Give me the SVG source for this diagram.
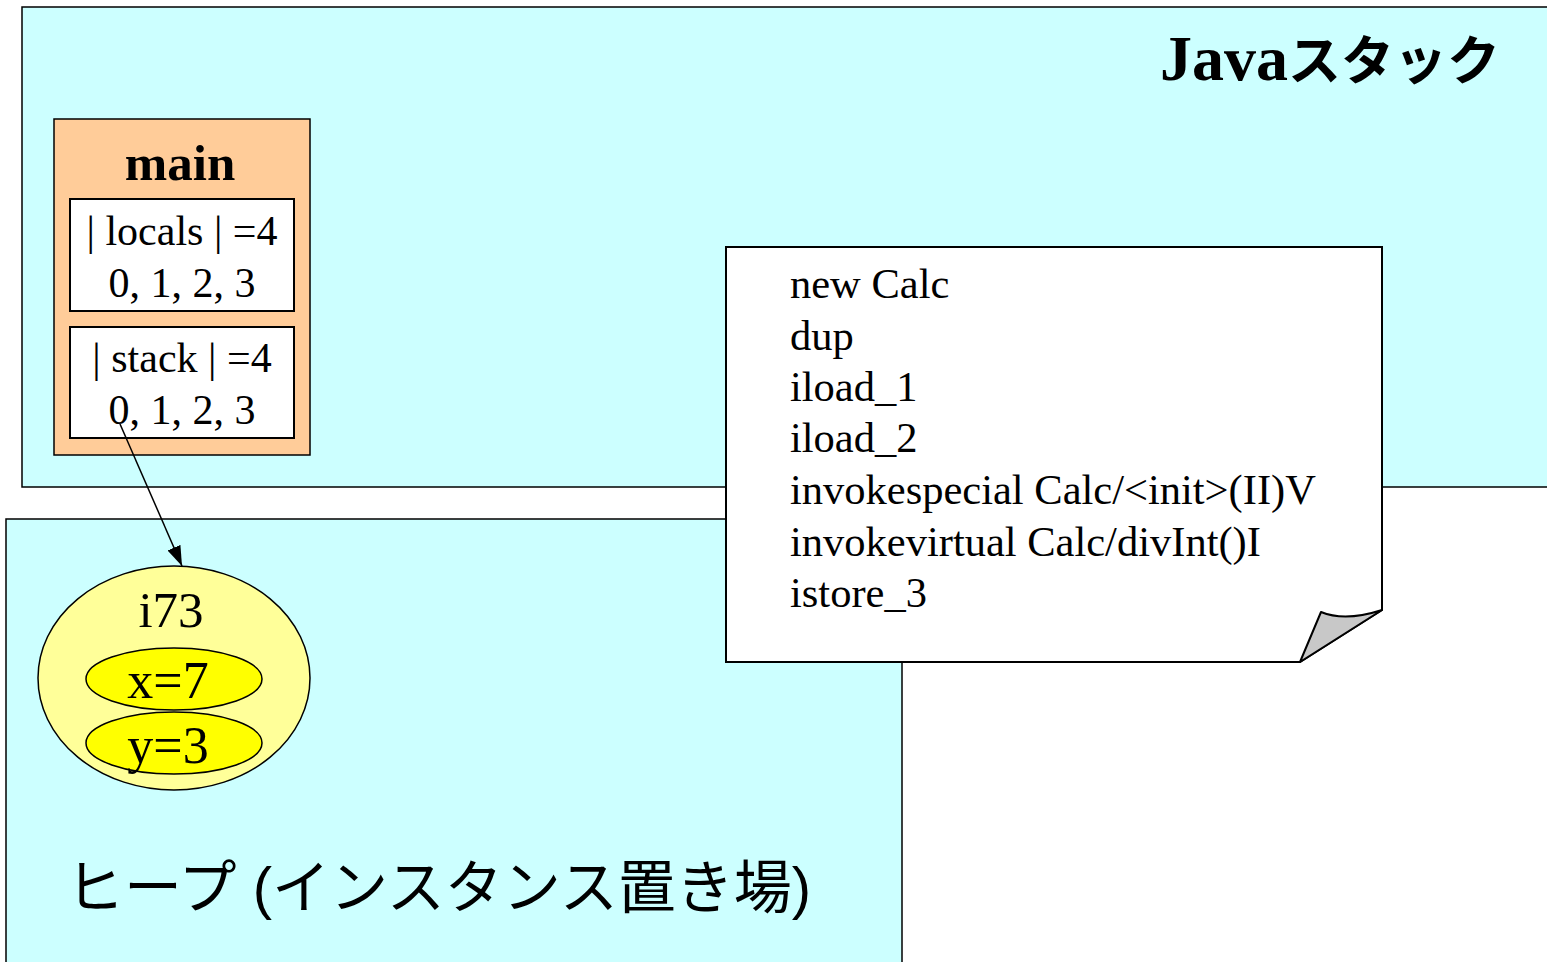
<svg xmlns="http://www.w3.org/2000/svg" width="1547" height="962" viewBox="0 0 1547 962">
<defs>
<style>
.area{fill:#CCFFFF;stroke:#000;stroke-width:1.5}
.t{font-family:"Liberation Serif","Times New Roman",serif;fill:#000}
.j{font-family:"Liberation Sans","Noto Sans CJK JP",sans-serif;fill:#000}
.box{fill:#fff;stroke:#000;stroke-width:2}
</style>
<marker id="arr" viewBox="0 0 20 14" refX="20" refY="7" markerWidth="20" markerHeight="14" markerUnits="userSpaceOnUse" orient="auto"><path d="M0,0 L20,7 L0,14 Z" fill="#000"/></marker>
</defs>
<rect width="1547" height="962" fill="#fff"/>
<g id="java-stack">
<rect class="area" x="22" y="7" width="1540" height="480"/>
<text class="t" x="1160" y="80" font-size="64" font-weight="bold">Java<tspan class="j" font-size="53" font-weight="bold">スタック</tspan></text>
</g>
<g id="heap">
<rect class="area" x="6" y="519" width="896" height="460"/>
<text class="j" x="66" y="908" font-size="58">ヒープ (インスタンス置き場)</text>
</g>
<g id="main">
<rect x="54" y="119" width="256" height="336" fill="#FFCC99" stroke="#000" stroke-width="1.5"/>
<text class="t" x="180" y="180" font-size="51" font-weight="bold" text-anchor="middle">main</text>
<rect class="box" x="70" y="199" width="224" height="112"/>
<text class="t" x="182" y="245" font-size="42" text-anchor="middle">| locals | =4</text>
<text class="t" x="182" y="297" font-size="42" text-anchor="middle">0, 1, 2, 3</text>
<rect class="box" x="70" y="327" width="224" height="111"/>
<text class="t" x="182" y="372" font-size="42" text-anchor="middle">| stack | =4</text>
<text class="t" x="182" y="424" font-size="42" text-anchor="middle">0, 1, 2, 3</text>
</g>
<g id="i73">
<ellipse cx="174" cy="678" rx="136" ry="112" fill="#FFFF99" stroke="#000" stroke-width="1.5"/>
<text class="t" x="171" y="627" font-size="51" text-anchor="middle">i73</text>
<ellipse cx="174" cy="679" rx="88" ry="31" fill="#FFFF00" stroke="#000" stroke-width="1.5"/>
<text class="t" x="168" y="698" font-size="52" text-anchor="middle">x=7</text>
<ellipse cx="174" cy="743" rx="88" ry="31" fill="#FFFF00" stroke="#000" stroke-width="1.5"/>
<text class="t" x="168" y="763" font-size="52" text-anchor="middle">y=3</text>
</g>
<g id="connectors">
<line x1="120" y1="424" x2="182" y2="566" stroke="#000" stroke-width="1.5" marker-end="url(#arr)"/>
</g>
<g id="note">
<path d="M726,247 H1382 V610 L1300,662 H726 Z" fill="#fff" stroke="#000" stroke-width="2"/>
<path d="M1300,662 L1321,612 Q1345,622 1382,610 Z" fill="#C8C8C8" stroke="#000" stroke-width="2" stroke-linejoin="round"/>
<g class="t" font-size="42.5">
<text x="790" y="298">new Calc</text>
<text x="790" y="350">dup</text>
<text x="790" y="401">iload_1</text>
<text x="790" y="452">iload_2</text>
<text x="790" y="504">invokespecial Calc/&lt;init&gt;(II)V</text>
<text x="790" y="556">invokevirtual Calc/divInt()I</text>
<text x="790" y="607">istore_3</text>
</g>
</g>
</svg>
